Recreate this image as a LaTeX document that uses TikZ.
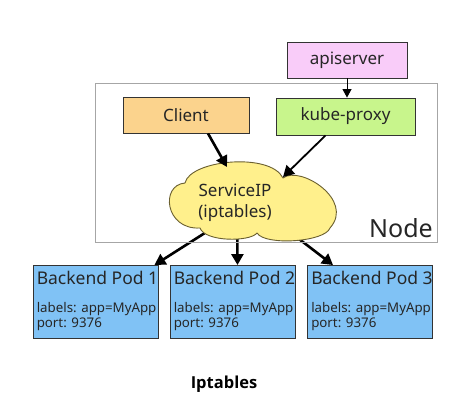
\documentclass[tikz,border=0pt]{standalone}
\usepackage{fontspec}
\setmainfont{Noto Sans}
\newfontfamily\titlefont{Open Sans}
\usetikzlibrary{arrows.meta,calc}
\pgfdeclarelayer{bg}
\pgfsetlayers{bg,main}
\definecolor{pinkfill}{HTML}{F9CCF9}
\definecolor{orangefill}{HTML}{FBD38D}
\definecolor{greenfill}{HTML}{C8F58C}
\definecolor{yellowfill}{HTML}{FFF08C}
\definecolor{bluefill}{HTML}{80C2F5}
\definecolor{boxline}{HTML}{333333}
\definecolor{cloudline}{HTML}{6B6030}
\tikzset{
  box/.style={draw=boxline, line width=0.9pt, inner sep=0pt},
  boxtext/.style={font=\fontsize{17}{20}\selectfont, text=black!85},
  podbox/.style={box, fill=bluefill, minimum width=125pt, minimum height=73pt},
  podtitle/.style={anchor=base west, inner sep=0pt, font=\fontsize{17.5}{20}\selectfont, text=black!85},
  podsmall/.style={anchor=base west, inner sep=0pt, font=\fontsize{13.3}{15}\selectfont, text=black!85},
  cloudstyle/.style={draw=cloudline, line width=0.9pt, fill=yellowfill, line join=round},
  thickarrow/.style={line width=2.6pt, -{Triangle[length=11pt,width=12pt]}},
  medarrow/.style={line width=1.8pt, -{Triangle[length=11pt,width=12pt]}},
  thinarrow/.style={line width=1pt, -{Triangle[length=8.5pt,width=9pt]}}
}
\begin{document}
\begin{tikzpicture}[x=1pt,y=-1pt]
\begin{pgfonlayer}{bg}
\fill[white] (0,0) rectangle (471,416);
\end{pgfonlayer}
\useasboundingbox (0,0) rectangle (471,416);
% Node frame
\node[draw=black!35, line width=0.8pt, minimum width=342pt, minimum height=159pt, inner sep=0pt] (frame) at (266,162.5) {};
\node[anchor=base east, inner sep=0pt, font=\fontsize{25}{28}\selectfont, text=black!85] (nodelbl) at (433,237) {Node};
% boxes
\node[box, fill=pinkfill, minimum width=120pt, minimum height=36pt, boxtext] (api) at (347,60) {apiserver};
\node[box, fill=orangefill, minimum width=126pt, minimum height=36pt, boxtext] (client) at (186,115) {Client};
\node[box, fill=greenfill, minimum width=139pt, minimum height=37pt, boxtext] (kp) at (345.5,116.5) {kube-proxy};
% cloud
\coordinate (svc) at (252,203);
\draw[cloudstyle] (185,183)
  .. controls (190,160) and (270,152) .. (283,178)
  .. controls (300,165) and (355,200) .. (330,228)
  .. controls (325,242) and (265,246) .. (257,233)
  .. controls (250,242) and (205,242) .. (200,228)
  .. controls (165,230) and (160,185) .. cycle;
\node[align=center, inner sep=0pt, font=\fontsize{17}{21}\selectfont, text=black!85] (svctext) at (235,203) {ServiceIP\\(iptables)};
% pods
\node[podbox] (pod1) at (95.5,302) {};
\node[podbox] (pod2) at (232.5,302) {};
\node[podbox] (pod3) at (370,302) {};
\foreach \p/\n in {pod1/1,pod2/2,pod3/3}{
  \node[podtitle] (t\n) at ($(\p.north west)+(4,19)$) {Backend Pod \n};
  \node[podsmall] (l\n) at ($(\p.north west)+(4,47)$) {labels: app=MyApp};
  \node[podsmall] (q\n) at ($(\p.north west)+(4,62)$) {port: 9376};
}
% arrows
\draw[thinarrow] (api.south) -- (kp.north -| api.south);
\draw[thickarrow] ($(client.south)+(22,0)$) -- (227,167);
\draw[medarrow] ($(kp.south)+(-20,0)$) -- (283,177);
\begin{pgfonlayer}{bg}
\draw[thickarrow] (svc) -- ($(pod1.north east)+(-4,0)$);
\draw[thickarrow] ($(svc)+(-15,0)$) -- ($(pod2.north)+(5,0)$);
\draw[thickarrow] (svc) -- ($(pod3.north west)+(26,0)$);
\end{pgfonlayer}
\node[font=\titlefont\bfseries\fontsize{16.5}{20}\selectfont, anchor=base, inner sep=0pt] (title) at (224,388) {Iptables};
\end{tikzpicture}
\end{document}
